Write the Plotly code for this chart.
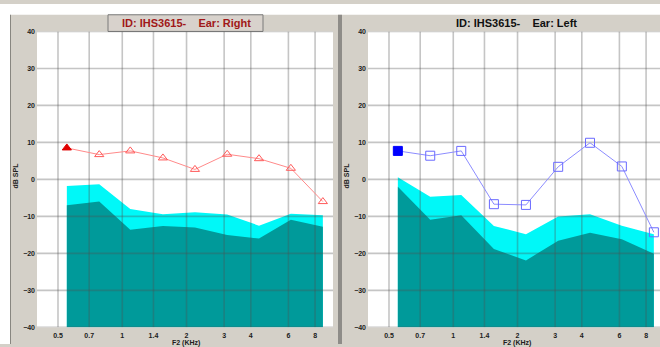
import math
import plotly.graph_objects as go

# ---------------- data ----------------
freq_khz = [0.55, 0.78, 1.09, 1.55, 2.19, 3.1, 4.37, 6.16, 8.7]

right_dp = [8.5, 6.7, 7.7, 5.8, 2.7, 6.8, 5.6, 3.0, -6.0]
right_noise_hi = [-1.8, -1.3, -8.0, -9.4, -8.9, -9.5, -12.5, -9.3, -9.7]
right_noise_lo = [-7.0, -6.0, -13.6, -12.6, -13.0, -15.0, -16.0, -10.9, -12.8]

left_dp = [7.7, 6.4, 7.7, -6.7, -6.9, 3.4, 9.9, 3.5, -14.3]
left_noise_hi = [0.6, -4.7, -4.2, -12.6, -14.8, -10.0, -9.4, -12.5, -14.8]
left_noise_lo = [-2.0, -10.9, -9.7, -18.8, -21.9, -16.6, -14.4, -16.2, -20.1]

x_tick_vals = [0.5, 0.7, 1, 1.4, 2, 3, 4, 6, 8]
x_tick_text = ["0.5", "0.7", "1", "1.4", "2", "3", "4", "6", "8"]
y_tick_vals = [40, 30, 20, 10, 0, -10, -20, -30, -40]
Y_MIN, Y_MAX = -40, 40

titles = ["ID: IHS3615-\u00a0\u00a0\u00a0\u00a0Ear: Right", "ID: IHS3615-\u00a0\u00a0\u00a0\u00a0Ear: Left"]

# ---------------- layout helpers ----------------
W, H = 660, 347
def px(x):
    return x / W
def py(y):
    return (H - y) / H

K = 213.5  # px per decade
L0 = math.log10(0.5)

GRAY = "#d4d0c8"
CYAN = "#00F8F8"
TEAL = "#009A9A"
GRID = "rgba(80,80,80,0.33)"
FONT = "Liberation Sans, Arial, sans-serif"

fig = go.Figure()

panels = [
    dict(xa="x", ya="y", dp=right_dp, hi=right_noise_hi, lo=right_noise_lo,
         sym="triangle-up", fill_col="#E00000", open_col="#FF5A5A", line_col="#FF8A8A", msize=8),
    dict(xa="x2", ya="y2", dp=left_dp, hi=left_noise_hi, lo=left_noise_lo,
         sym="square", fill_col="#0000FF", open_col="#6A6AFF", line_col="#8C8CFF", msize=9),
]

base = [Y_MIN] * len(freq_khz)
for p in panels:
    kw = dict(xaxis=p["xa"], yaxis=p["ya"], showlegend=False, hoverinfo="skip")
    fig.add_trace(go.Scatter(x=freq_khz, y=base, mode="lines", line=dict(width=0), **kw))
    fig.add_trace(go.Scatter(x=freq_khz, y=p["hi"], mode="lines", line=dict(width=0),
                             fill="tonexty", fillcolor=CYAN, **kw))
    fig.add_trace(go.Scatter(x=freq_khz, y=base, mode="lines", line=dict(width=0), **kw))
    fig.add_trace(go.Scatter(x=freq_khz, y=p["lo"], mode="lines", line=dict(width=0),
                             fill="tonexty", fillcolor=TEAL, **kw))
    # grid drawn above fills
    gx, gy = [], []
    for v in x_tick_vals:
        gx += [v, v, None]
        gy += [Y_MIN, Y_MAX, None]
    lo_x = 10 ** (L0 - 21 / K)
    hi_x = 10 ** (L0 + 300 / K)
    for v in y_tick_vals:
        gx += [lo_x, hi_x, None]
        gy += [v, v, None]
    fig.add_trace(go.Scatter(x=gx, y=gy, mode="lines", line=dict(color=GRID, width=1.6), **kw))
    n = len(freq_khz)
    fig.add_trace(go.Scatter(
        x=freq_khz, y=p["dp"], mode="lines+markers",
        line=dict(color=p["line_col"], width=1),
        marker=dict(symbol=[p["sym"]] + [p["sym"] + "-open"] * (n - 1),
                    color=[p["fill_col"]] + [p["open_col"]] * (n - 1),
                    size=p["msize"], line=dict(width=1, color=[p["fill_col"]] + [p["open_col"]] * (n - 1))),
        **kw))

tickfont = dict(family=FONT, size=7, color="#202020", weight="bold")
xcommon = dict(type="log", tickvals=x_tick_vals, ticktext=x_tick_text, showgrid=False,
               zeroline=False, showline=False, ticks="", tickfont=tickfont, ticklabelstandoff=3)
ycommon = dict(range=[Y_MIN, Y_MAX], tickvals=y_tick_vals, showgrid=False, zeroline=False,
               showline=False, ticks="", tickfont=tickfont, ticklabelstandoff=1)

ydom = [py(330), py(28)]
fig.update_layout(
    width=W, height=H, autosize=False,
    margin=dict(l=0, r=0, t=0, b=0, pad=0),
    paper_bgcolor=GRAY, plot_bgcolor="white",
    xaxis=dict(domain=[px(37), px(333)], range=[L0 - 21 / K, L0 + 275 / K], anchor="y", **xcommon),
    yaxis=dict(domain=ydom, anchor="x", **ycommon),
    xaxis2=dict(domain=[px(368), 1.0], range=[L0 - 21 / K, L0 + 271 / K], anchor="y2", **xcommon),
    yaxis2=dict(domain=ydom, anchor="x2", **ycommon),
)

shapes = []
# white surround (top strip and left strip)
shapes.append(dict(type="rect", xref="paper", yref="paper", x0=0, x1=1, y0=py(11), y1=1,
                   fillcolor="white", line=dict(width=0), layer="below"))
shapes.append(dict(type="rect", xref="paper", yref="paper", x0=0, x1=px(10), y0=0, y1=1,
                   fillcolor="white", line=dict(width=0), layer="below"))
# separator and left border
shapes.append(dict(type="rect", xref="paper", yref="paper", x0=px(338), x1=px(342), y0=0, y1=py(11),
                   fillcolor="#8e8c88", line=dict(width=0), layer="below"))
shapes.append(dict(type="line", xref="paper", yref="paper", x0=px(10.5), x1=px(10.5), y0=0, y1=py(11),
                   line=dict(color="#888680", width=1), layer="below"))
# title box (left)
shapes.append(dict(type="rect", xref="paper", yref="paper", x0=px(108), x1=px(263), y0=py(28), y1=py(11),
                   fillcolor="#d8d2cc", line=dict(color="#7a7a7a", width=1), layer="below"))
fig.update_layout(shapes=shapes)

ann = []
ann.append(dict(text=titles[0], x=px(186), y=py(19.5), xref="paper", yref="paper", showarrow=False,
                xanchor="center", yanchor="middle",
                font=dict(family=FONT, size=11, color="#A01818", weight="bold")))
ann.append(dict(text=titles[1], x=px(516), y=py(19.5), xref="paper", yref="paper", showarrow=False,
                xanchor="center", yanchor="middle",
                font=dict(family=FONT, size=11, color="#101010", weight="bold")))
for cx in (15, 346):
    ann.append(dict(text="dB SPL", x=px(cx), y=py(175), xref="paper", yref="paper", showarrow=False,
                    textangle=-90, xanchor="center", yanchor="middle",
                    font=dict(family=FONT, size=7, color="#202020", weight="bold")))
for cx in (186, 517):
    ann.append(dict(text="F2 (KHz)", x=px(cx), y=py(340), xref="paper", yref="paper", showarrow=False,
                    xanchor="center", yanchor="top",
                    font=dict(family=FONT, size=7, color="#202020", weight="bold")))
fig.update_layout(annotations=ann)

fig.write_html("out.html", config={"displayModeBar": False},
               post_script="document.body.style.margin='0';")
